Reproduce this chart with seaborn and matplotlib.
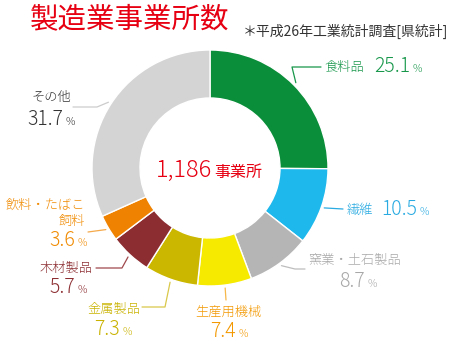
import numpy as np
import matplotlib
matplotlib.use("Agg")
import matplotlib.pyplot as plt
import seaborn as sns

# データ（平成26年工業統計調査・県統計）
categories = ['食料品', '繊維', '窯業・土石製品', '生産用機械', '金属製品', '木材製品', '飲料・たばこ・飼料', 'その他']
shares = [25.1, 10.5, 8.7, 7.4, 7.3, 5.7, 3.6, 31.7]
label_names = ['食料品', '繊維', '窯業・土石製品', '生産用機械', '金属製品', '木材製品', '飲料・たばこ\n飼料', 'その他']
total = '1,186'

slice_colors = ['#0b8e3a', '#1eb8ec', '#b5b5b5', '#f6ea00', '#cbb700', '#8c2d31', '#ef8200', '#d4d4d4']
text_colors = ['#17974a', '#2aabe2', '#a8a8a8', '#f39800', '#c9b200', '#8c2d31', '#f08a00', '#333333']
line_colors = ['#17974a', '#2aabe2', '#bdbdbd', '#f7b84a', '#d9c84a', '#a0484b', '#f5a94a', '#cccccc']

sns.set_theme(style="white")
plt.rcParams['font.family'] = ['Noto Sans CJK JP', 'DejaVu Sans']

W, H = 461, 354
CX, CY, R = 210, 168, 118   # ドーナツの中心と半径（ピクセル、上から）

def Y(y):
    return H - y

# ラベルの配置（ピクセル座標、上から）
layout = [
    dict(name=(324, 67, 'left'), num=(410, 72), path=[(292, 67), (321, 67)]),
    dict(name=(347, 210, 'left'), num=(417, 215), path=[(343, 209)]),
    dict(name=(355, 260, 'center'), num=(365, 287), path=[(295, 269), (305, 269)]),
    dict(name=(228, 312, 'center'), num=(236, 337), path=[(226, 300)]),
    dict(name=(140, 309, 'right'), num=(120, 335), path=[(165, 307), (142, 307)]),
    dict(name=(93, 268, 'right'), num=(75, 293), path=[(122, 268), (96, 268)]),
    dict(name=(85, 213, 'right'), num=(75, 246), path=[(88, 232)]),
    dict(name=(71, 98, 'right'), num=(63, 125), path=[(97, 107), (73, 107)]),
]

fig = plt.figure(figsize=(W / 100, H / 100), dpi=100)
ax = fig.add_axes([0, 0, 1, 1])

ax.pie(shares, colors=sns.color_palette(slice_colors), startangle=90, counterclock=False,
       radius=R, center=(CX, Y(CY)),
       wedgeprops=dict(width=48, edgecolor='white', linewidth=1))

# 引き出し線とラベル
cum = np.cumsum([0] + shares)
for i, lay in enumerate(layout):
    mid = np.deg2rad((cum[i] + cum[i + 1]) / 2 / 100 * 360)
    sx = CX + (R + 3) * np.sin(mid)
    sy = CY - (R + 3) * np.cos(mid)
    pts = [(sx, sy)] + lay['path']
    ax.plot([p[0] for p in pts], [Y(p[1]) for p in pts], color=line_colors[i], lw=0.9)

    nx, ny, ha = lay['name']
    ax.text(nx, Y(ny), label_names[i], ha=ha, va='center', multialignment=ha,
            fontsize=9.5, color=text_colors[i], linespacing=1.3, fontweight='light')
    px, py = lay['num']
    ax.text(px, Y(py), f'{shares[i]:.1f}', ha='right', va='baseline',
            fontsize=14, color=text_colors[i], fontweight='light')
    ax.text(px + 2, Y(py), '%', ha='left', va='baseline', fontsize=7.5,
            color=text_colors[i], fontweight='light')

# 中央の合計
ax.text(212, Y(177), total, ha='right', va='baseline', fontsize=17, color='#e60012', fontweight='light')
ax.text(214, Y(177), '事業所', ha='left', va='baseline', fontsize=11.5, color='#e60012')

# タイトル
ax.text(30, Y(19), '製造業事業所数', ha='left', va='center', fontsize=20.5, color='#e60012')
ax.text(243, Y(31), '＊平成26年工業統計調査[県統計]', ha='left', va='center', fontsize=10, color='#333333')

ax.set_xlim(0, W)
ax.set_ylim(0, H)
ax.set_aspect('equal')
ax.axis('off')

fig.savefig('out.png', dpi=100)
